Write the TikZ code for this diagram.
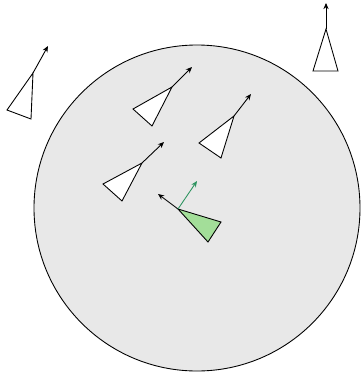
\documentclass[tikz,border=0pt]{standalone}
\usepackage{xcolor}
\usepackage{tikz}
\usetikzlibrary{arrows.meta,calc}
\definecolor{areagray}{HTML}{E8E8E8}
\definecolor{selfgreen}{HTML}{A3DE99}
\definecolor{steergreen}{HTML}{2E9460}

\begin{document}
\begin{tikzpicture}[
    x=0.02cm, y=-0.02cm,
    >={Stealth[length=3.5pt,width=3pt]},
    boid/.style={draw, fill=white, line width=0.5pt, line join=miter},
    heading/.style={->, line width=0.5pt},
    area/.style={draw, fill=areagray, line width=0.5pt},
  ]
  \useasboundingbox (0,0) rectangle (361,379);

  % ── Neighbourhood ──
  \coordinate (centre) at (197,208);
  \draw[area] (centre) circle[radius=163];

  % ── Other boids: apex, base corners, heading tip ──
  \coordinate (a1) at (33,73);   \coordinate (b1) at (7,110);
  \coordinate (c1) at (31,119);  \coordinate (t1) at (48,46);
  \coordinate (a2) at (326,29);  \coordinate (b2) at (313,71);
  \coordinate (c2) at (338,71);  \coordinate (t2) at (326,3);
  \coordinate (a3) at (172,87);  \coordinate (b3) at (133,109);
  \coordinate (c3) at (152,126); \coordinate (t3) at (192,67);
  \coordinate (a4) at (234,116); \coordinate (b4) at (199,143);
  \coordinate (c4) at (221,158); \coordinate (t4) at (251,94);
  \coordinate (a5) at (142,163); \coordinate (b5) at (103,184);
  \coordinate (c5) at (122,201); \coordinate (t5) at (164,142);

  \foreach \i in {1,...,5} {
    \draw[boid] (a\i) -- (b\i) -- (c\i) -- cycle;
    \draw[heading] (a\i) -- (t\i);
  }

  % ── The boid itself ──
  \coordinate (self) at (178,209);
  \coordinate (selfb) at (221,222);
  \coordinate (selfc) at (208,242);
  \coordinate (selft) at (158,194);
  \coordinate (steer) at (197,181);
  \draw[boid, fill=selfgreen] (self) -- (selfb) -- (selfc) -- cycle;
  \draw[heading] (self) -- (selft);
  \draw[heading, steergreen] (self) -- (steer);

\end{tikzpicture}
\end{document}
